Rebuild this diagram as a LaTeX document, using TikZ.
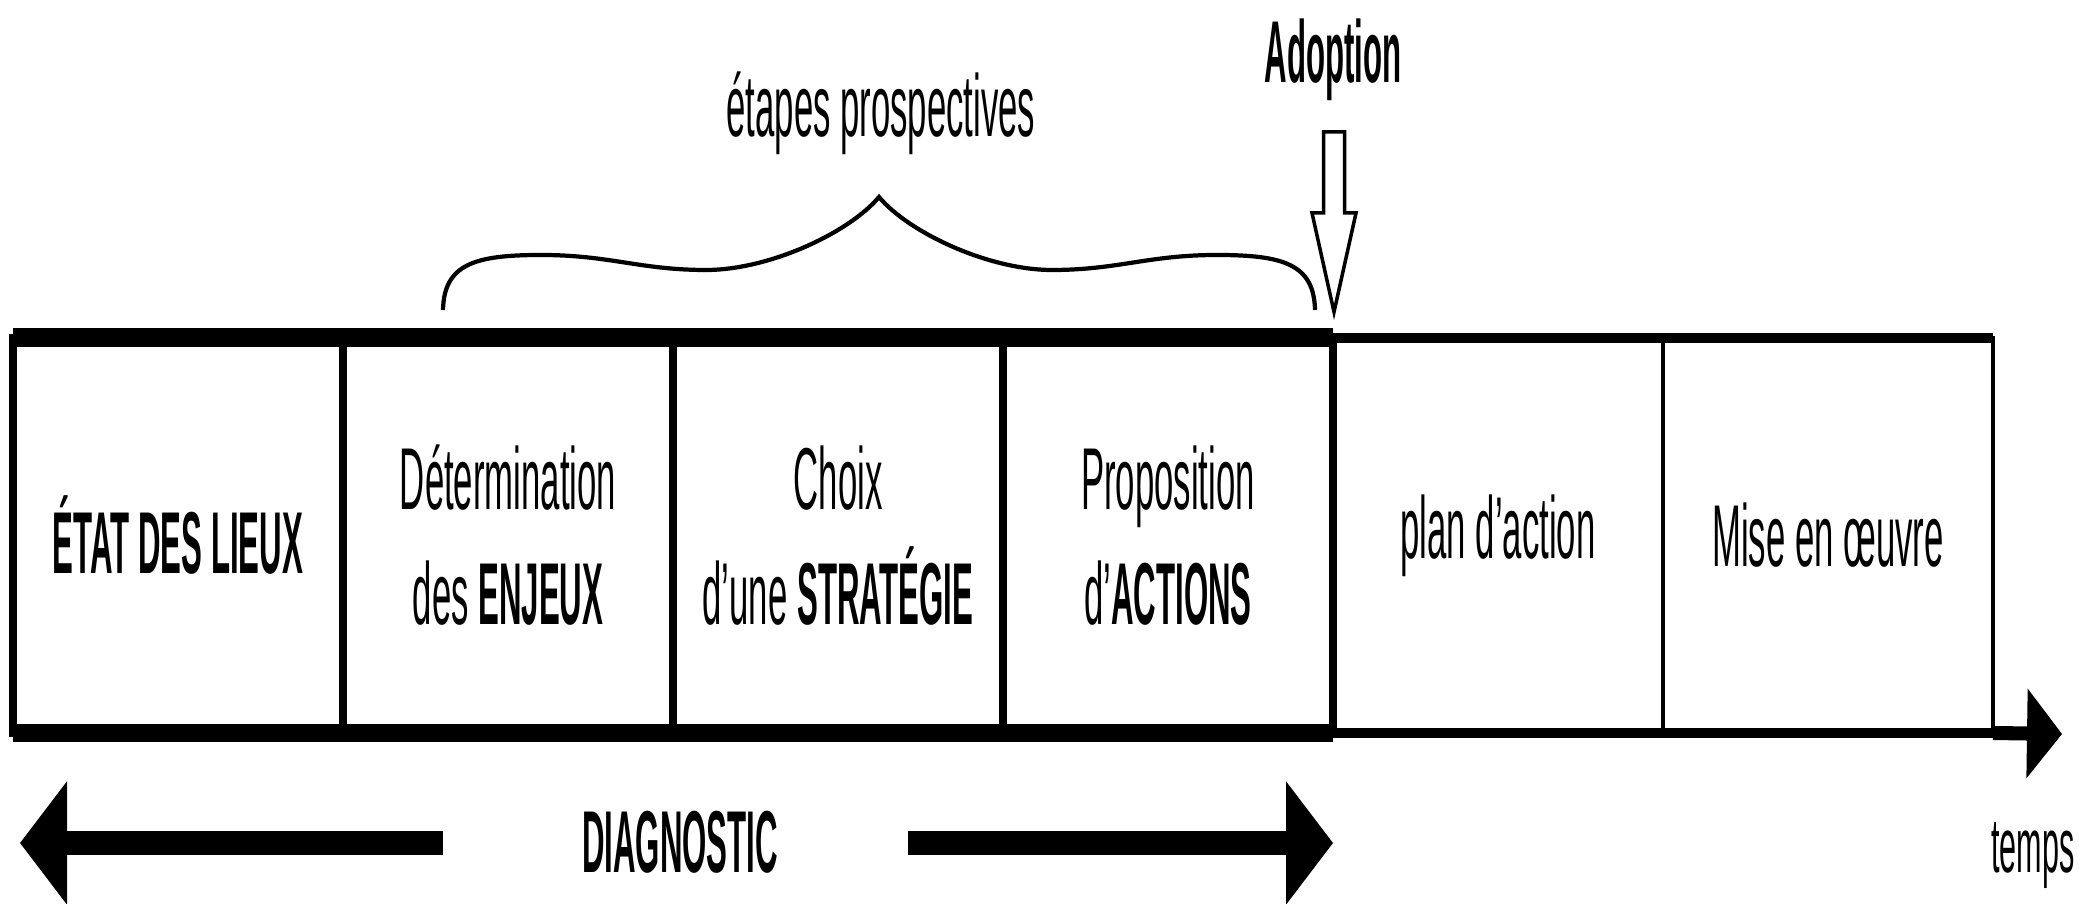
\documentclass[tikz,border=0pt]{standalone}
\usepackage{fontspec}
\setmainfont{Liberation Sans}[FakeStretch=0.395,BoldFeatures={FakeStretch=0.355}]
\usetikzlibrary{arrows.meta}

\begin{document}
\begin{tikzpicture}[
		every node/.style={font=\fontsize{25}{32.7}\selectfont},
		stepbox/.style={draw, line width=2.2pt, minimum width=3.3cm, minimum height=3.95cm, inner sep=0pt, outer sep=0pt, align=center},
		laterbox/.style={stepbox, line width=1.3pt},
		plaintext/.style={inner sep=0pt},
		bigarrow/.style={line width=6.8pt, -{Triangle[length=4.7mm,width=12.1mm]}},
	]
		\useasboundingbox (0,0) rectangle (20.79,9.04);
		%boxes
		\node[stepbox] (etat) at (1.78,3.685) {\textbf{ÉTAT DES LIEUX}};
		\node[stepbox] (enjeux) at (5.08,3.685) {Détermination\\des \textbf{ENJEUX}};
		\node[stepbox] (strategie) at (8.38,3.685) {Choix\\d'une \textbf{STRATÉGIE}};
		\node[stepbox] (actions) at (11.68,3.685) {Proposition\\d'\textbf{ACTIONS}};
		\node[laterbox] (plan) at (14.98,3.685) {plan d'action};
		\node[laterbox] (oeuvre) at (18.28,3.685) {Mise en œuvre};
		%thick and thin edges
		\draw[line width=5.4pt] (etat.north west) -- (actions.north east);
		\draw[line width=5.4pt] (etat.south west) -- (actions.south east);
		\draw[line width=2.6pt] (actions.north east) -- (oeuvre.north east);
		\draw[line width=2.6pt] (actions.south east) -- (oeuvre.south east);
		%time axis
		\coordinate (tend) at (20.62,1.70);
		\draw[line width=4pt, -{Triangle[length=3.5mm,width=8.8mm]}] (oeuvre.south east) -- (tend);
		\node[plaintext, anchor=base east, font=\fontsize{22}{26}\selectfont] (temps) at (20.75,0.31) {temps};
		%diagnostic
		\node[plaintext] (diag) at (6.80,0.62) {\textbf{DIAGNOSTIC}};
		\coordinate (dleftstart) at (4.43,0.61);
		\coordinate (dleftend) at (0.20,0.61);
		\coordinate (drightstart) at (9.08,0.61);
		\coordinate (drightend) at (13.33,0.61);
		\draw[bigarrow] (dleftstart) -- (dleftend);
		\draw[bigarrow] (drightstart) -- (drightend);
		%adoption
		\node[plaintext, anchor=base] (adoption) at (13.33,8.21) {\textbf{Adoption}};
		\coordinate (adopttip) at (13.34,5.92);
		\draw[line width=1pt, fill=white] (adopttip) -- ++(0.22,0.99) -- ++(-0.115,0) -- ++(0,0.81)
			-- ++(-0.21,0) -- ++(0,-0.81) -- ++(-0.115,0) -- cycle;
		%brace
		\coordinate (braceleft) at (4.43,5.94);
		\coordinate (bracetip) at (8.79,7.07);
		\coordinate (braceright) at (13.15,5.94);
		\draw[line width=1.2pt] (braceleft) .. controls (4.44,6.40) and (4.75,6.49) .. (5.41,6.49)
			.. controls (6.10,6.49) and (6.40,6.34) .. (7.06,6.34)
			.. controls (7.70,6.34) and (8.50,6.72) .. (bracetip)
			.. controls (9.08,6.72) and (9.88,6.34) .. (10.52,6.34)
			.. controls (11.18,6.34) and (11.48,6.49) .. (12.17,6.49)
			.. controls (12.83,6.49) and (13.14,6.40) .. (braceright);
		\node[plaintext, anchor=base] (etapes) at (8.81,7.67) {étapes prospectives};
	\end{tikzpicture}
\end{document}
